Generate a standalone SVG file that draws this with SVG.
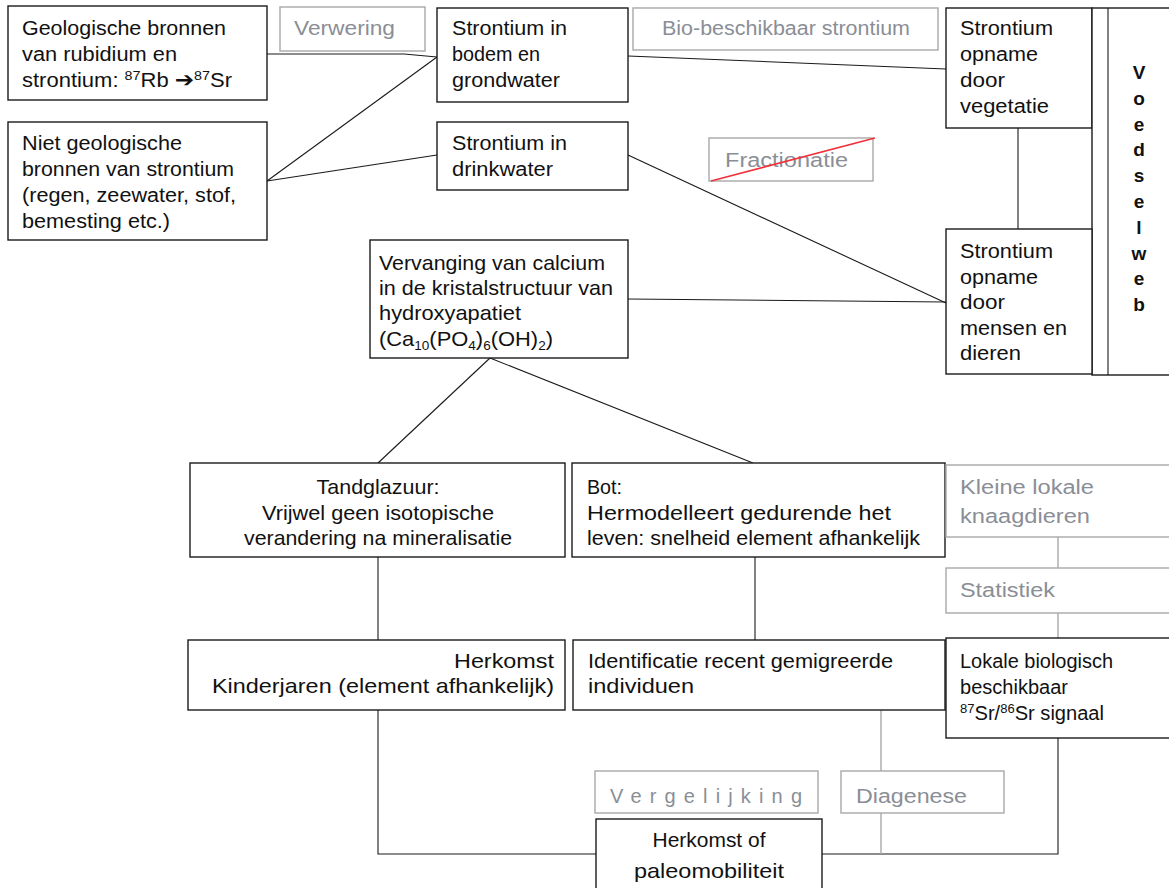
<svg xmlns="http://www.w3.org/2000/svg" width="1169" height="888" viewBox="0 0 1169 888">
<style>
.box{fill:#fff;stroke:#1a1a1a;stroke-width:1.4}
.gbox{fill:#fff;stroke:#a8a8a8;stroke-width:1.4}
.t{font-family:"Liberation Sans",Arial,sans-serif;font-size:20px;fill:#111}
.tc{font-family:"Liberation Sans",Arial,sans-serif;font-size:21px;fill:#111}
.g{font-family:"Liberation Sans",Arial,sans-serif;font-size:20px;fill:#8a8e96}
.vw{font-family:"Liberation Sans",Arial,sans-serif;font-size:19px;font-weight:bold;fill:#111;text-anchor:middle}
.ln{stroke:#1a1a1a;stroke-width:1.1;fill:none}
.gln{stroke:#a8a8a8;stroke-width:1.4;fill:none}
.sup{font-size:13px}
</style>
<rect width="1169" height="888" fill="#fff"/>
<g id="connectors">
<polyline class="ln" points="267,54 404,54 437,57"/>
<line class="ln" x1="267" y1="181" x2="437" y2="57"/>
<line class="ln" x1="267" y1="181" x2="437" y2="155"/>
<line class="ln" x1="628" y1="56" x2="946" y2="69"/>
<line class="ln" x1="628" y1="155" x2="946" y2="303"/>
<line class="ln" x1="628" y1="299" x2="946" y2="302"/>
<line class="ln" x1="1018" y1="128" x2="1018" y2="229"/>
<line class="ln" x1="490" y1="358" x2="378" y2="463"/>
<line class="ln" x1="490" y1="358" x2="753" y2="463"/>
<line class="ln" x1="378" y1="557" x2="378" y2="640"/>
<line class="ln" x1="755" y1="557" x2="755" y2="640"/>
<polyline class="ln" points="378,710 378,854 596,854"/>
<polyline class="ln" points="822,854 1058,854 1058,738"/>
<line class="gln" x1="881" y1="710" x2="881" y2="771"/>
<line class="gln" x1="881" y1="813" x2="881" y2="854"/>
<line class="gln" x1="1058" y1="537" x2="1058" y2="568"/>
<line class="gln" x1="1058" y1="613" x2="1058" y2="638"/>
</g>
<g id="geologisch">
<rect class="box" x="8" y="6" width="259" height="94"/>
<text class="t" x="22" y="35" textLength="204" lengthAdjust="spacingAndGlyphs">Geologische bronnen</text>
<text class="t" x="22" y="61" textLength="155" lengthAdjust="spacingAndGlyphs">van rubidium en</text>
<text class="t" x="22" y="87" textLength="210" lengthAdjust="spacingAndGlyphs">strontium: <tspan class="sup" dy="-7">87</tspan><tspan dy="7">Rb </tspan><tspan font-family="DejaVu Sans,sans-serif" font-size="21" font-weight="bold">➔</tspan><tspan class="sup" dy="-7">87</tspan><tspan dy="7">Sr</tspan></text>
</g>
<g id="verwering">
<rect class="gbox" x="280" y="7" width="145" height="44"/>
<text class="g" x="294" y="35" textLength="101" lengthAdjust="spacingAndGlyphs">Verwering</text>
</g>
<g id="bodem">
<rect class="box" x="437" y="8" width="191" height="94"/>
<text class="t" x="452" y="35" textLength="115" lengthAdjust="spacingAndGlyphs">Strontium in</text>
<text class="t" x="452" y="61" textLength="88" lengthAdjust="spacingAndGlyphs">bodem en</text>
<text class="t" x="452" y="87" textLength="108" lengthAdjust="spacingAndGlyphs">grondwater</text>
</g>
<g id="biobeschikbaar">
<rect class="gbox" x="633" y="8" width="305" height="42"/>
<text class="g" x="662" y="35" textLength="248" lengthAdjust="spacingAndGlyphs">Bio-beschikbaar strontium</text>
</g>
<g id="vegetatie">
<rect class="box" x="946" y="8" width="146" height="120"/>
<text class="t" x="960" y="35" textLength="93" lengthAdjust="spacingAndGlyphs">Strontium</text>
<text class="t" x="960" y="61" textLength="78" lengthAdjust="spacingAndGlyphs">opname</text>
<text class="t" x="960" y="87" textLength="45" lengthAdjust="spacingAndGlyphs">door</text>
<text class="t" x="960" y="113" textLength="89" lengthAdjust="spacingAndGlyphs">vegetatie</text>
</g>
<g id="voedselweb">
<rect class="box" x="1092" y="8" width="90" height="367"/>
<line class="ln" x1="1108" y1="8" x2="1108" y2="375"/>
<text class="vw" x="1139" y="79">V</text>
<text class="vw" x="1139" y="104.8">o</text>
<text class="vw" x="1139" y="130.6">e</text>
<text class="vw" x="1139" y="156.4">d</text>
<text class="vw" x="1139" y="182.2">s</text>
<text class="vw" x="1139" y="208">e</text>
<text class="vw" x="1139" y="233.8">l</text>
<text class="vw" x="1139" y="259.6">w</text>
<text class="vw" x="1139" y="285.4">e</text>
<text class="vw" x="1139" y="311.2">b</text>
</g>
<g id="nietgeologisch">
<rect class="box" x="8" y="122" width="259" height="118"/>
<text class="t" x="22" y="150" textLength="160" lengthAdjust="spacingAndGlyphs">Niet geologische</text>
<text class="t" x="22" y="176" textLength="212" lengthAdjust="spacingAndGlyphs">bronnen van strontium</text>
<text class="t" x="22" y="202" textLength="214" lengthAdjust="spacingAndGlyphs">(regen, zeewater, stof,</text>
<text class="t" x="22" y="228" textLength="148" lengthAdjust="spacingAndGlyphs">bemesting etc.)</text>
</g>
<g id="drinkwater">
<rect class="box" x="437" y="122" width="191" height="68"/>
<text class="t" x="452" y="150" textLength="115" lengthAdjust="spacingAndGlyphs">Strontium in</text>
<text class="t" x="452" y="176" textLength="101" lengthAdjust="spacingAndGlyphs">drinkwater</text>
</g>
<g id="fractionatie">
<rect class="gbox" x="709" y="138" width="164" height="43"/>
<text class="g" x="725" y="167" textLength="123" lengthAdjust="spacingAndGlyphs">Fractionatie</text>
<line x1="711" y1="181" x2="875" y2="138" stroke="#f0303a" stroke-width="1.6"/>
</g>
<g id="vervanging">
<rect class="box" x="370" y="240" width="258" height="118"/>
<text class="tc" x="379" y="270" textLength="226" lengthAdjust="spacingAndGlyphs">Vervanging van calcium</text>
<text class="tc" x="379" y="295" textLength="234" lengthAdjust="spacingAndGlyphs">in de kristalstructuur van</text>
<text class="tc" x="379" y="320" textLength="142" lengthAdjust="spacingAndGlyphs">hydroxyapatiet</text>
<text class="tc" x="379" y="346" textLength="174" lengthAdjust="spacingAndGlyphs">(Ca<tspan class="sup" dy="4">10</tspan><tspan dy="-4">(PO</tspan><tspan class="sup" dy="4">4</tspan><tspan dy="-4">)</tspan><tspan class="sup" dy="4">6</tspan><tspan dy="-4">(OH)</tspan><tspan class="sup" dy="4">2</tspan><tspan dy="-4">)</tspan></text>
</g>
<g id="mensen">
<rect class="box" x="946" y="229" width="146" height="145"/>
<text class="t" x="960" y="258" textLength="93" lengthAdjust="spacingAndGlyphs">Strontium</text>
<text class="t" x="960" y="284" textLength="78" lengthAdjust="spacingAndGlyphs">opname</text>
<text class="t" x="960" y="309" textLength="45" lengthAdjust="spacingAndGlyphs">door</text>
<text class="t" x="960" y="335" textLength="107" lengthAdjust="spacingAndGlyphs">mensen en</text>
<text class="t" x="960" y="360" textLength="61" lengthAdjust="spacingAndGlyphs">dieren</text>
</g>
<g id="tandglazuur">
<rect class="box" x="190" y="463" width="375" height="94"/>
<text class="tc" x="378" y="494" text-anchor="middle" textLength="123" lengthAdjust="spacingAndGlyphs">Tandglazuur:</text>
<text class="tc" x="378" y="520" text-anchor="middle" textLength="232" lengthAdjust="spacingAndGlyphs">Vrijwel geen isotopische</text>
<text class="tc" x="378" y="545" text-anchor="middle" textLength="268" lengthAdjust="spacingAndGlyphs">verandering na mineralisatie</text>
</g>
<g id="bot">
<rect class="box" x="572" y="463" width="373" height="94"/>
<text class="tc" x="587" y="494" textLength="35" lengthAdjust="spacingAndGlyphs">Bot:</text>
<text class="tc" x="587" y="520" textLength="304" lengthAdjust="spacingAndGlyphs">Hermodelleert gedurende het</text>
<text class="tc" x="587" y="545" textLength="333" lengthAdjust="spacingAndGlyphs">leven: snelheid element afhankelijk</text>
</g>
<g id="knaagdieren">
<rect class="gbox" x="946" y="465" width="240" height="72"/>
<text class="g" x="960" y="494" textLength="134" lengthAdjust="spacingAndGlyphs">Kleine lokale</text>
<text class="g" x="960" y="523" textLength="130" lengthAdjust="spacingAndGlyphs">knaagdieren</text>
</g>
<g id="statistiek">
<rect class="gbox" x="946" y="568" width="240" height="45"/>
<text class="g" x="960" y="597" textLength="95" lengthAdjust="spacingAndGlyphs">Statistiek</text>
</g>
<g id="herkomstkind">
<rect class="box" x="188" y="640" width="377" height="70"/>
<text class="tc" x="554" y="668" text-anchor="end" textLength="100" lengthAdjust="spacingAndGlyphs">Herkomst</text>
<text class="tc" x="554" y="693" text-anchor="end" textLength="342" lengthAdjust="spacingAndGlyphs">Kinderjaren (element afhankelijk)</text>
</g>
<g id="identificatie">
<rect class="box" x="573" y="640" width="372" height="70"/>
<text class="tc" x="588" y="668" textLength="305" lengthAdjust="spacingAndGlyphs">Identificatie recent gemigreerde</text>
<text class="tc" x="588" y="693" textLength="106" lengthAdjust="spacingAndGlyphs">individuen</text>
</g>
<g id="lokaal">
<rect class="box" x="946" y="638" width="240" height="100"/>
<text class="t" x="960" y="668" textLength="153" lengthAdjust="spacingAndGlyphs">Lokale biologisch</text>
<text class="t" x="960" y="694" textLength="108" lengthAdjust="spacingAndGlyphs">beschikbaar</text>
<text class="t" x="960" y="720" textLength="144" lengthAdjust="spacingAndGlyphs"><tspan class="sup" dy="-7">87</tspan><tspan dy="7">Sr/</tspan><tspan class="sup" dy="-7">86</tspan><tspan dy="7">Sr signaal</tspan></text>
</g>
<g id="vergelijking">
<rect class="gbox" x="595" y="771" width="223" height="42"/>
<text class="g" x="610" y="803" textLength="192" lengthAdjust="spacing">Vergelijking</text>
</g>
<g id="diagenese">
<rect class="gbox" x="841" y="771" width="163" height="42"/>
<text class="g" x="856" y="803" textLength="111" lengthAdjust="spacingAndGlyphs">Diagenese</text>
</g>
<g id="herkomst">
<rect class="box" x="596" y="819" width="226" height="80"/>
<text class="tc" x="709" y="847" text-anchor="middle" textLength="113" lengthAdjust="spacingAndGlyphs">Herkomst of</text>
<text class="tc" x="709" y="878" text-anchor="middle" textLength="150" lengthAdjust="spacingAndGlyphs">paleomobiliteit</text>
</g>
</svg>
